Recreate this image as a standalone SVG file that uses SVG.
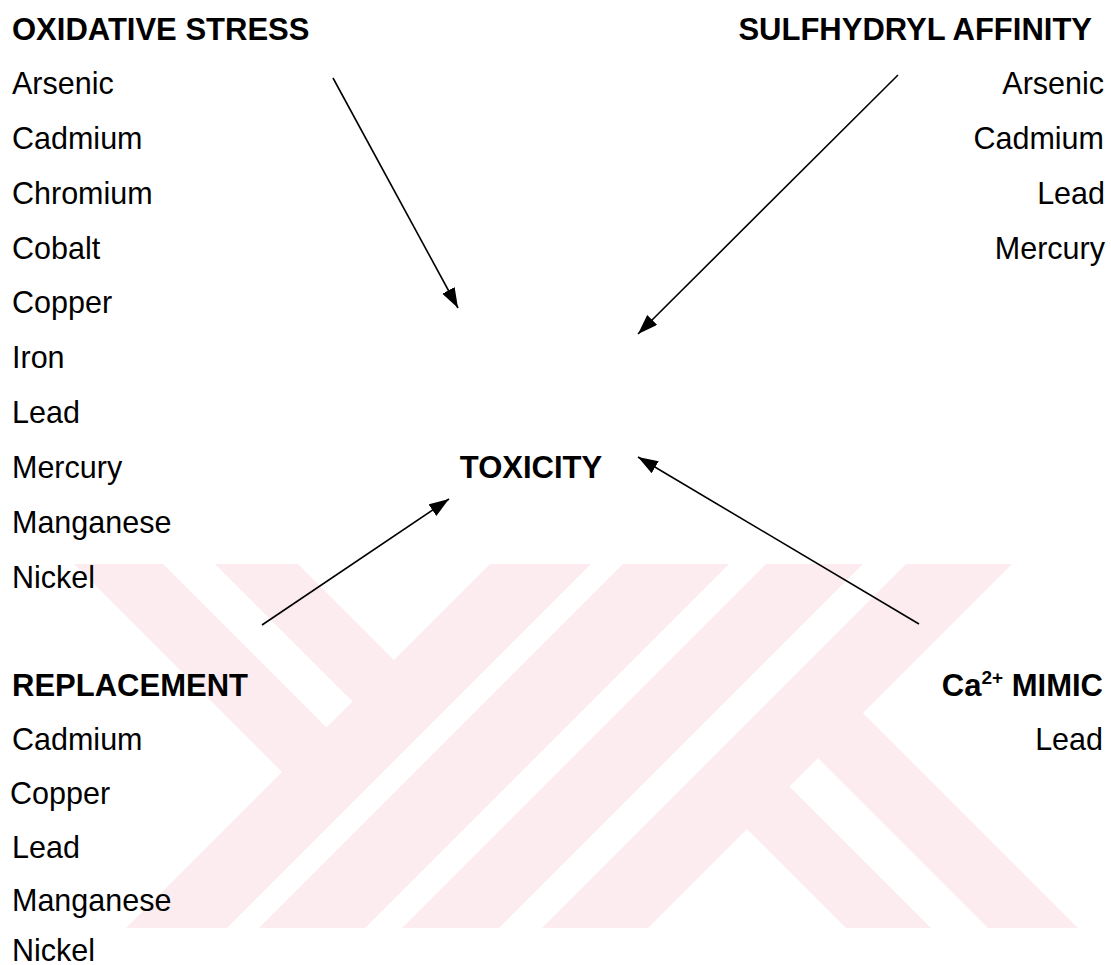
<svg xmlns="http://www.w3.org/2000/svg" width="1111" height="965" viewBox="0 0 1111 965">
<style>
  text { font-family: "Liberation Sans", Arial, sans-serif; font-size: 30.5px; fill: #000; }
  .h { font-weight: bold; font-size: 31px; }
  .r { text-anchor: end; }
  .wm { fill: #fdecef; stroke: none; }
  .conn line { stroke: #000; stroke-width: 1.6; fill: none; marker-end: url(#ah); }
</style>
<defs>
  <marker id="ah" markerUnits="userSpaceOnUse" markerWidth="22" markerHeight="16" refX="20" refY="7" orient="auto">
    <path d="M0,0 L20,7 L0,14 z" fill="#000"/>
  </marker>
</defs>
<rect x="0" y="0" width="1111" height="965" fill="#fff"/>
<g id="watermark">
  <polygon class="wm" points="74,564 163,564 339.5,740.5 295,785"/>
  <polygon class="wm" points="215,564 298,564 407,673 365.5,714.5"/>
  <polygon class="wm" points="490,564 591,564 227,928 126,928"/>
  <polygon class="wm" points="623,564 729,564 365,928 259,928"/>
  <polygon class="wm" points="766,564 863,564 499,928 402,928"/>
  <polygon class="wm" points="906,564 1012,564 648,928 542,928"/>
  <polygon class="wm" points="776.5,773.5 931,928 846,928 734,816"/>
  <polygon class="wm" points="850,700 1078,928 988,928 805,745"/>
</g>
<g id="oxidative">
  <text class="h" x="12" y="40">OXIDATIVE STRESS</text>
  <text x="12" y="94">Arsenic</text>
  <text x="12" y="149">Cadmium</text>
  <text x="12" y="204">Chromium</text>
  <text x="12" y="259">Cobalt</text>
  <text x="12" y="313">Copper</text>
  <text x="12" y="368">Iron</text>
  <text x="12" y="423">Lead</text>
  <text x="12" y="478">Mercury</text>
  <text x="12" y="533">Manganese</text>
  <text x="12" y="588">Nickel</text>
</g>
<g id="sulfhydryl">
  <text class="h r" x="1092" y="40">SULFHYDRYL AFFINITY</text>
  <text class="r" x="1104" y="94">Arsenic</text>
  <text class="r" x="1104" y="149">Cadmium</text>
  <text class="r" x="1105" y="204">Lead</text>
  <text class="r" x="1105" y="259">Mercury</text>
</g>
<g id="toxicity">
  <text class="h" x="531" y="478" text-anchor="middle">TOXICITY</text>
</g>
<g id="replacement">
  <text class="h" x="12" y="696">REPLACEMENT</text>
  <text x="12" y="750">Cadmium</text>
  <text x="10" y="804">Copper</text>
  <text x="12" y="858">Lead</text>
  <text x="12" y="911">Manganese</text>
  <text x="12" y="961">Nickel</text>
</g>
<g id="camimic">
  <text class="h r" x="1103" y="696">Ca<tspan font-size="19" dy="-12">2+</tspan><tspan dy="12"> MIMIC</tspan></text>
  <text class="r" x="1103" y="750">Lead</text>
</g>
<g id="connectors" class="conn">
  <line x1="333" y1="78" x2="458" y2="308"/>
  <line x1="898" y1="75" x2="638" y2="334"/>
  <line x1="262" y1="625" x2="449" y2="499"/>
  <line x1="919" y1="624" x2="638" y2="457"/>
</g>
</svg>
